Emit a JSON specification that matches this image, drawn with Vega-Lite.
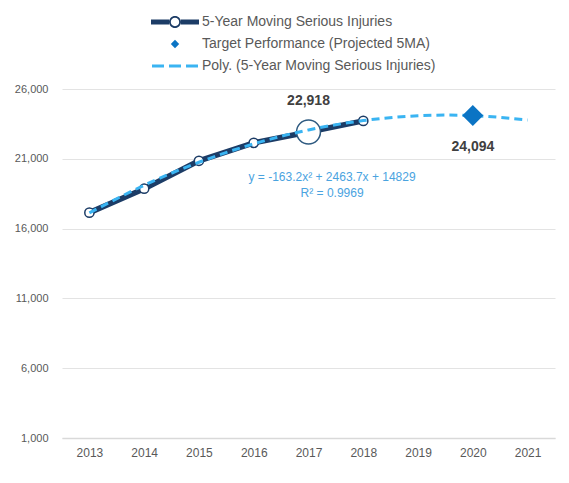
{
  "$schema": "https://vega.github.io/schema/vega-lite/v6.json",
  "width": 493,
  "height": 349,
  "autosize": {"type": "none"},
  "padding": {"left": 62, "top": 89, "right": 14, "bottom": 45},
  "background": "white",
  "config": {"view": {"stroke": null}, "font": "Liberation Sans"},
  "data": {
    "values": [
      {"series": "5-Year Moving Serious Injuries", "year": 2013, "value": 17143},
      {"series": "5-Year Moving Serious Injuries", "year": 2014, "value": 18857},
      {"series": "5-Year Moving Serious Injuries", "year": 2015, "value": 20857},
      {"series": "5-Year Moving Serious Injuries", "year": 2016, "value": 22143},
      {"series": "5-Year Moving Serious Injuries", "year": 2017, "value": 22918},
      {"series": "5-Year Moving Serious Injuries", "year": 2018, "value": 23714},
      {"series": "Target Performance (Projected 5MA)", "year": 2020, "value": 24094},
      {"series": "Poly. (5-Year Moving Serious Injuries)", "year": 2013, "value": 17130},
      {"series": "Poly. (5-Year Moving Serious Injuries)", "year": 2014, "value": 19104},
      {"series": "Poly. (5-Year Moving Serious Injuries)", "year": 2015, "value": 20751},
      {"series": "Poly. (5-Year Moving Serious Injuries)", "year": 2016, "value": 22073},
      {"series": "Poly. (5-Year Moving Serious Injuries)", "year": 2017, "value": 23068},
      {"series": "Poly. (5-Year Moving Serious Injuries)", "year": 2018, "value": 23736},
      {"series": "Poly. (5-Year Moving Serious Injuries)", "year": 2019, "value": 24078},
      {"series": "Poly. (5-Year Moving Serious Injuries)", "year": 2020, "value": 24094},
      {"series": "Poly. (5-Year Moving Serious Injuries)", "year": 2021, "value": 23783}
    ]
  },
  "encoding": {
    "x": {
      "field": "year",
      "type": "quantitative",
      "scale": {"domain": [2012.5, 2021.5], "nice": false, "zero": false},
      "axis": {
        "values": [2013, 2014, 2015, 2016, 2017, 2018, 2019, 2020, 2021],
        "format": "d",
        "title": null,
        "grid": false,
        "ticks": false,
        "domainColor": "#d9d9d9",
        "domainWidth": 1.5,
        "labelColor": "#595959",
        "labelFontSize": 12,
        "labelPadding": 9
      }
    },
    "y": {
      "field": "value",
      "type": "quantitative",
      "scale": {"domain": [1000, 26000], "nice": false, "zero": false},
      "axis": {
        "values": [1000, 6000, 11000, 16000, 21000, 26000],
        "format": ",d",
        "title": null,
        "domain": false,
        "ticks": false,
        "gridColor": "#e3e3e3",
        "labelColor": "#595959",
        "labelFontSize": 11,
        "labelPadding": 14
      }
    }
  },
  "layer": [
    {
      "transform": [{"filter": "datum.series === '5-Year Moving Serious Injuries'"}],
      "mark": {"type": "line", "color": "#1c3c66", "strokeWidth": 5.5}
    },
    {
      "transform": [{"filter": "datum.series === '5-Year Moving Serious Injuries'"}],
      "mark": {"type": "point", "shape": "circle", "filled": true, "fill": "white", "stroke": "#1c3c66", "strokeWidth": 1.5, "size": 85, "opacity": 1}
    },
    {
      "transform": [{"filter": "datum.series === '5-Year Moving Serious Injuries' && datum.year === 2017"}],
      "mark": {"type": "point", "shape": "circle", "filled": true, "fill": "white", "stroke": "#2e5a80", "strokeWidth": 1.5, "size": 570, "opacity": 1}
    },
    {
      "transform": [{"filter": "datum.series === 'Poly. (5-Year Moving Serious Injuries)'"}],
      "mark": {"type": "line", "color": "#3ab4f2", "strokeWidth": 3, "strokeDash": [8, 5], "interpolate": "natural"}
    },
    {
      "transform": [{"filter": "datum.series === 'Target Performance (Projected 5MA)'"}],
      "mark": {"type": "point", "filled": true, "size": 2500, "opacity": 1},
      "encoding": {
        "shape": {
          "field": "series",
          "type": "nominal",
          "scale": {
            "domain": ["5-Year Moving Serious Injuries", "Target Performance (Projected 5MA)", "Poly. (5-Year Moving Serious Injuries)"],
            "range": [
              "M-2.4,-0.25H-0.6V0.25H-2.4Z M0.6,-0.25H2.4V0.25H0.6Z M0.6,0A0.6,0.6 0 1,1 -0.6,0A0.6,0.6 0 1,1 0.6,0Z M0.42,0A0.42,0.42 0 1,0 -0.42,0A0.42,0.42 0 1,0 0.42,0Z",
              "M0,-0.42L0.42,0L0,0.42L-0.42,0Z",
              "M-2.3,-0.14H-1.1V0.14H-2.3Z M-0.6,-0.14H0.6V0.14H-0.6Z M1.1,-0.14H2.3V0.14H1.1Z"
            ]
          },
          "legend": {
            "title": null,
            "orient": "none",
            "legendX": 103,
            "legendY": -77,
            "direction": "vertical",
            "symbolSize": 400,
            "symbolStrokeWidth": 0,
            "symbolOpacity": 1,
            "labelFontSize": 14,
            "labelColor": "#595959",
            "labelOffset": 17,
            "rowPadding": 5,
            "padding": 0,
            "labelLimit": 400
          }
        },
        "color": {
          "field": "series",
          "type": "nominal",
          "scale": {
            "domain": ["5-Year Moving Serious Injuries", "Target Performance (Projected 5MA)", "Poly. (5-Year Moving Serious Injuries)"],
            "range": ["#1c3c66", "#0b74c4", "#3ab4f2"]
          },
          "legend": {
            "title": null,
            "orient": "none",
            "legendX": 103,
            "legendY": -77,
            "direction": "vertical",
            "symbolSize": 400,
            "symbolStrokeWidth": 0,
            "symbolOpacity": 1,
            "labelFontSize": 14,
            "labelColor": "#595959",
            "labelOffset": 17,
            "rowPadding": 5,
            "padding": 0,
            "labelLimit": 400
          }
        }
      }
    },
    {
      "transform": [{"filter": "datum.series === '5-Year Moving Serious Injuries' && datum.year === 2017"}],
      "mark": {"type": "text", "dy": -31, "fontSize": 14, "fontWeight": "bold", "color": "#404040"},
      "encoding": {"text": {"field": "value", "type": "quantitative", "format": ","}}
    },
    {
      "transform": [{"filter": "datum.series === 'Target Performance (Projected 5MA)'"}],
      "mark": {"type": "text", "dy": 31, "fontSize": 14, "fontWeight": "bold", "color": "#404040"},
      "encoding": {"text": {"field": "value", "type": "quantitative", "format": ","}}
    },
    {
      "data": {"values": [{"year": 2017.43, "value": 20070, "note": ["y = -163.2x² + 2463.7x + 14829", "R² = 0.9969"]}]},
      "mark": {"type": "text", "align": "center", "baseline": "top", "fontSize": 12, "lineHeight": 16, "color": "#4aa3df"},
      "encoding": {"text": {"field": "note"}}
    }
  ]
}
